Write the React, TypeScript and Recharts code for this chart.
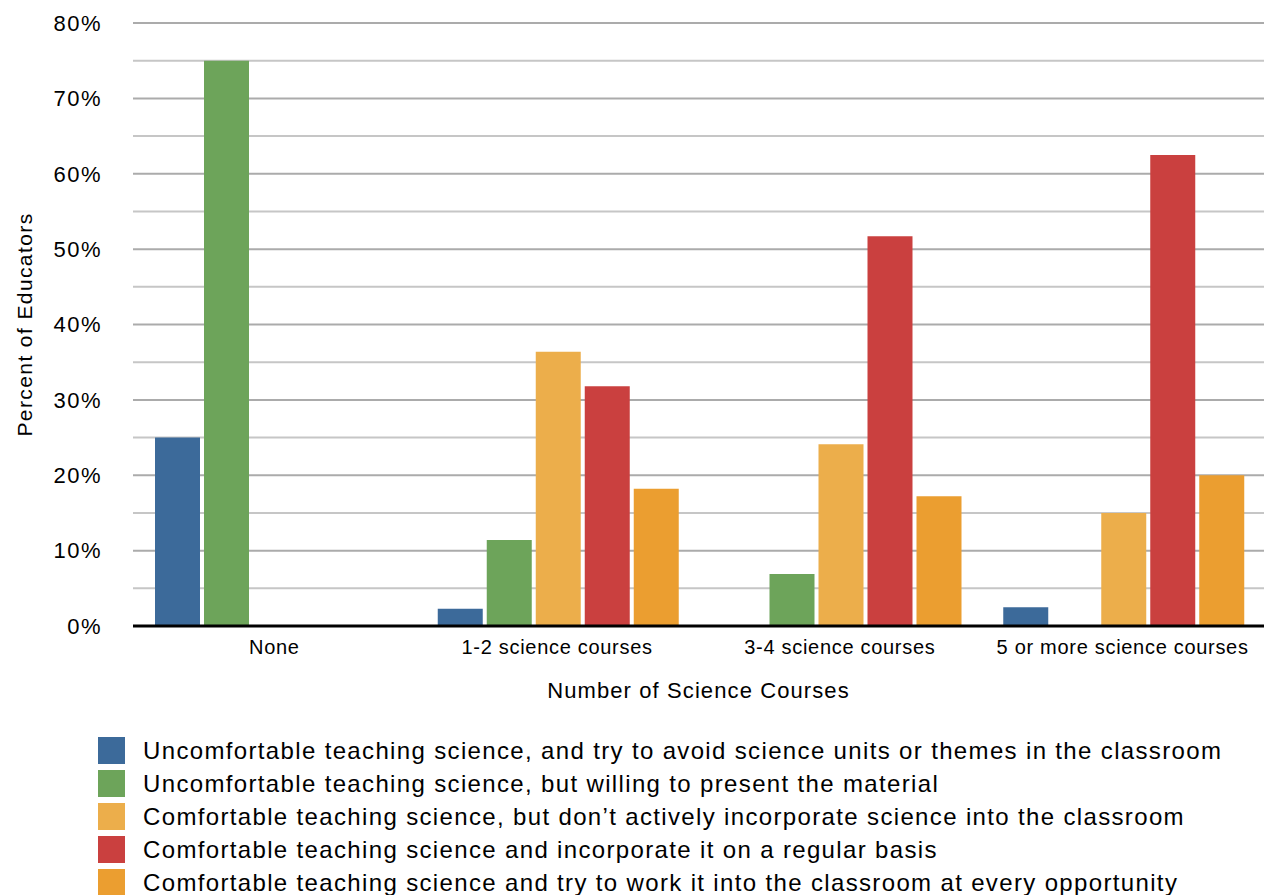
import React from 'react';
import { BarChart, Bar, XAxis, YAxis, CartesianGrid, Legend, Label } from 'recharts';

const categories = ['None', '1-2 science courses', '3-4 science courses', '5 or more science courses'];
const seriesNames = [
  'Uncomfortable teaching science, and try to avoid science units or themes in the classroom',
  'Uncomfortable teaching science, but willing to present the material',
  'Comfortable teaching science, but don\u2019t actively incorporate science into the classroom',
  'Comfortable teaching science and incorporate it on a regular basis',
  'Comfortable teaching science and try to work it into the classroom at every opportunity',
];
const avoidScience = [25, 2.3, 0, 2.5];
const willingToPresent = [75, 11.4, 6.9, 0];
const notActively = [0, 36.4, 24.1, 15];
const regularBasis = [0, 31.8, 51.7, 62.5];
const everyOpportunity = [0, 18.2, 17.2, 20];
const majorTicks = [0, 10, 20, 30, 40, 50, 60, 70, 80];
const minorTicks = [5, 15, 25, 35, 45, 55, 65, 75];
const colors = ['#3C6A9A', '#6DA45A', '#ECAE4B', '#CA403F', '#EB9E30'];
const keys = ['s0', 's1', 's2', 's3', 's4'];
const seriesValues = [avoidScience, willingToPresent, notActively, regularBasis, everyOpportunity];

const data = categories.map((c, i) => {
  const row: any = { name: c };
  keys.forEach((k, j) => { row[k] = seriesValues[j][i]; });
  return row;
});

const FONT = '"Liberation Sans", Arial, Helvetica, sans-serif';

const LegendContent = () => (
  <div style={{ fontFamily: FONT }}>
    {seriesNames.map((n, i) => (
      <div key={n} style={{ display: 'flex', alignItems: 'center', height: 33 }}>
        <div style={{ width: 27, height: 27, background: colors[i], marginRight: 18, flex: 'none' }} />
        <span style={{ fontSize: 24, letterSpacing: 1.35, color: '#000', whiteSpace: 'nowrap' }}>{n}</span>
      </div>
    ))}
  </div>
);

const YLabel = (props: any) => {
  const vb = props.viewBox || {};
  const cx = 24;
  const cy = vb.y + vb.height / 2;
  return (
    <text x={cx} y={cy} transform={`rotate(-90, ${cx}, ${cy})`} textAnchor="middle" dominantBaseline="central" fontSize={21} letterSpacing={1.4} fill="#000">
      Percent of Educators
    </text>
  );
};

export default function App() {
  return (
    <div style={{ position: 'absolute', left: 0, top: 0, fontFamily: FONT }}>
      <BarChart
        width={1264}
        height={895}
        data={data}
        margin={{ top: 23, right: 0, left: 0, bottom: 24 }}
        barCategoryGap={22}
        barGap={4}
      >
        <CartesianGrid vertical={false} horizontalValues={minorTicks} stroke="#C6C6C6" strokeWidth={2} />
        <CartesianGrid vertical={false} horizontalValues={majorTicks} stroke="#ABABAB" strokeWidth={2} />
        <XAxis
          dataKey="name"
          height={80}
          tickLine={false}
          tickSize={6}
          tickMargin={8}
          axisLine={{ stroke: '#000', strokeWidth: 3 }}
          tick={{ fill: '#000', fontSize: 20, letterSpacing: 0.7 }}
          interval={0}
        >
          <Label value="Number of Science Courses" position="insideBottom" offset={8} fill="#000" fontSize={22} letterSpacing={1.1} />
        </XAxis>
        <YAxis
          width={133}
          domain={[0, 80]}
          ticks={majorTicks}
          tickFormatter={(v: number) => `${v}%`}
          tickLine={false}
          axisLine={false}
          tickSize={6}
          tickMargin={25}
          tick={{ fill: '#000', fontSize: 22, letterSpacing: 1.5 }}
          interval={0}
        >
          <Label content={<YLabel />} />
        </YAxis>
        {keys.map((k, i) => (
          <Bar key={k} dataKey={k} name={seriesNames[i]} fill={colors[i]} isAnimationActive={false} />
        ))}
        <Legend
          layout="vertical"
          align="center"
          verticalAlign="bottom"
          content={<LegendContent />}
          wrapperStyle={{ left: 98, top: 734, bottom: 'auto', width: 'auto' }}
        />
      </BarChart>
    </div>
  );
}
